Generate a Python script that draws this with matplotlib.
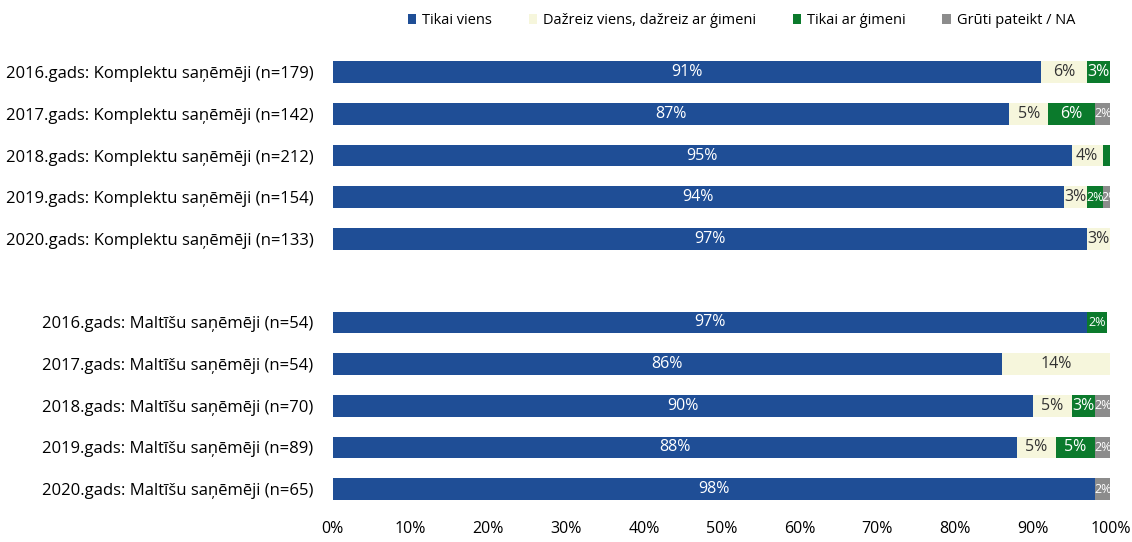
import numpy as np
import matplotlib.pyplot as plt

plt.rcParams['font.family'] = ['Open Sans', 'DejaVu Sans']

categories = [
    '2016.gads: Komplektu saņēmēji (n=179)',
    '2017.gads: Komplektu saņēmēji (n=142)',
    '2018.gads: Komplektu saņēmēji (n=212)',
    '2019.gads: Komplektu saņēmēji (n=154)',
    '2020.gads: Komplektu saņēmēji (n=133)',
    '2016.gads: Maltīšu saņēmēji (n=54)',
    '2017.gads: Maltīšu saņēmēji (n=54)',
    '2018.gads: Maltīšu saņēmēji (n=70)',
    '2019.gads: Maltīšu saņēmēji (n=89)',
    '2020.gads: Maltīšu saņēmēji (n=65)',
]
series = ['Tikai viens', 'Dažreiz viens, dažreiz ar ģimeni', 'Tikai ar ģimeni', 'Grūti pateikt / NA']
tikai_viens = [91, 87, 95, 94, 97, 97, 86, 90, 88, 98]
dazreiz = [6, 5, 4, 3, 3, 0, 14, 5, 5, 0]
ar_gimeni = [3, 6, 1, 2, 0.3, 2.5, 0, 3, 5, 0]
gruti = [0, 2, 0, 2, 0, 0, 0, 2, 2, 2]
labels_shown = [
    ['91%', '87%', '95%', '94%', '97%', '97%', '86%', '90%', '88%', '98%'],
    ['6%', '5%', '4%', '3%', '3%', '', '14%', '5%', '5%', ''],
    ['3%', '6%', '', '2%', '', '2%', '', '3%', '5%', ''],
    ['', '2%', '', '2%', '', '', '', '2%', '2%', '2%'],
]

colors = ['#1f4e96', '#f6f6dc', '#0b7a2c', '#8c8c8c']
text_colors = ['white', '#333333', 'white', 'white']

ypos = np.array([0, 1, 2, 3, 4, 6, 7, 8, 9, 10])

fig = plt.figure(figsize=(11.32, 5.42), dpi=100)
ax = fig.add_axes([0.294, 0.059, 0.687, 0.854])

left = np.zeros(len(categories))
for i, vals in enumerate([tikai_viens, dazreiz, ar_gimeni, gruti]):
    vals = np.array(vals, dtype=float)
    ax.barh(ypos, vals, left=left, height=0.52, color=colors[i], label=series[i])
    for j, v in enumerate(vals):
        txt = labels_shown[i][j]
        if txt:
            fs = 11.5 if v > 2.5 else 9
            ax.text(left[j] + v / 2, ypos[j], txt, ha='center', va='center',
                    fontsize=fs, color=text_colors[i])
    left += vals

ax.set_xlim(0, 100)
ax.set_ylim(10.5, -0.6)
ax.set_yticks(ypos)
ax.set_yticklabels(categories, fontsize=12)
ax.set_xticks(np.arange(0, 101, 10))
ax.set_xticklabels([f'{t}%' for t in range(0, 101, 10)], fontsize=11.5)
ax.tick_params(length=0)
ax.tick_params(axis='y', pad=14)
ax.tick_params(axis='x', pad=8)
for s in ax.spines.values():
    s.set_visible(False)

fig.legend(loc='upper center', bbox_to_anchor=(0.655, 1.0), ncol=4, frameon=False,
           fontsize=10.5, handlelength=0.6, handleheight=0.6, columnspacing=2.5,
           handletextpad=0.4)

fig.savefig('out.png', dpi=100)
